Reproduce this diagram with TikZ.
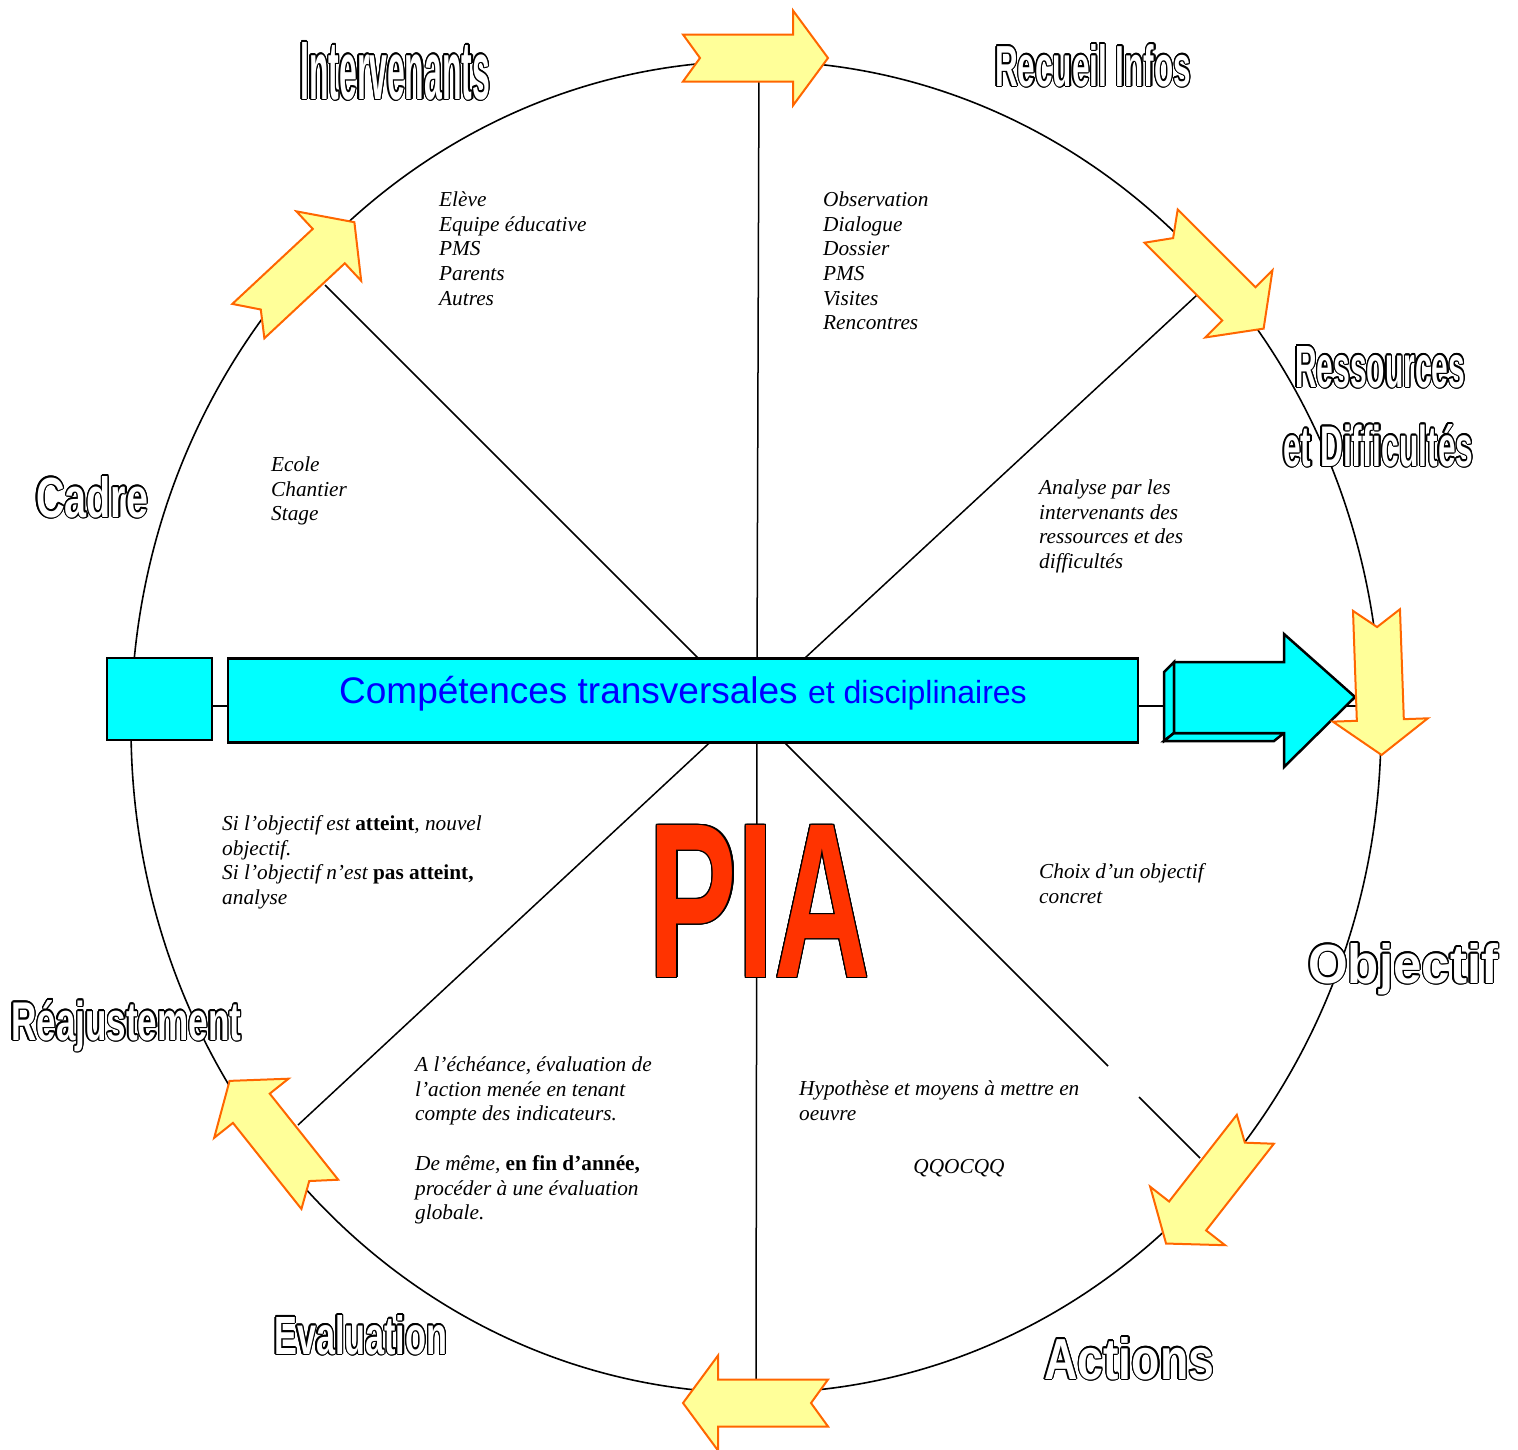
\documentclass[tikz,border=0pt]{standalone}
\usepackage{fontspec}
\setmainfont{Liberation Serif}
\setsansfont{Liberation Sans}
\usepackage{graphicx}
\usepackage[copies]{contour}
\contourlength{1.3pt}
\contournumber{16}

\definecolor{pialight}{HTML}{FFFF99}
\definecolor{piaedge}{HTML}{FF6600}
\definecolor{piared}{HTML}{FF3300}
\definecolor{barcyan}{RGB}{0,255,255}
\definecolor{bartext}{RGB}{0,0,255}

% hollow headings: width, cap height, word
\newcommand\hollow[3]{\contour{black}{\resizebox{#1pt}{#2pt}{\sffamily\bfseries #3}}}
% block arrow round the ellipse: centre, direction
\newcommand\yarrowat[2]{%
  \draw[yarrow, shift={#1}, rotate=#2]
    (-72,23.5) -- (38,23.5) -- (38,47.5) -- (73,0) -- (38,-47.5)
    -- (38,-23.5) -- (-72,-23.5) -- (-55,0) -- cycle;}

\begin{document}
\begin{tikzpicture}[x=1pt, y=-1pt,
    spoke/.style={line width=1.5pt},
    yarrow/.style={fill=pialight, draw=piaedge, line width=2pt, line join=miter},
    cyanface/.style={draw, fill=barcyan, line width=2.5pt, line join=miter},
    cyanbox/.style={cyanface, inner sep=0},
    note/.style={inner sep=0, anchor=north west, align=left,
      font=\itshape\fontsize{21.3}{24.7}\selectfont},
    hollowword/.style={inner sep=0, anchor=base west, text=white}]

  \useasboundingbox (0,0) rectangle (1518,1449);

  \draw[line width=1.6pt] (756,727) ellipse [x radius=625pt, y radius=666pt];

  % spokes
  \draw[spoke] (757,670) -- (759,70);
  \draw[spoke] (710,670) -- (325,285);
  \draw[spoke] (792,670) -- (1197,295);
  \draw[spoke] (720,733) -- (298,1125);
  \draw[spoke] (757,733) -- (756,1385);
  \draw[spoke] (775,733) -- (1108,1066);
  \draw[spoke] (1139,1097) -- (1200,1158);
  \draw[spoke] (131,706) -- (1381,706);

  % bar
  \node[cyanbox, minimum width=105pt, minimum height=82pt] (tab) at (159.5,699) {};
  \node[cyanbox, minimum width=910pt, minimum height=84pt, text=bartext,
    font=\sffamily, text height=30pt, text depth=25pt] (competences) at (683,700.5)
    {\fontsize{37}{40}\selectfont Compétences transversales
     \fontsize{32}{36}\selectfont et disciplinaires};
  \draw[cyanface] (1174,662) -- (1164,672) -- (1164,741) -- (1174,733) -- cycle;
  \draw[cyanface] (1164,741) -- (1274,741) -- (1284,733) -- (1174,733) -- cycle;
  \draw[cyanface] (1174,662) -- (1284,662) -- (1284,634) -- (1355,697)
    -- (1284,767) -- (1284,733) -- (1174,733) -- cycle;

  % arrows round the cycle
  \yarrowat{(755,58)}{0}
  \yarrowat{(1212,277)}{-45}
  \yarrowat{(1379,682)}{-88}
  \yarrowat{(1211,1186)}{-128}
  \yarrowat{(756,1403)}{180}
  \yarrowat{(275,1138)}{128.5}
  \yarrowat{(301,272)}{43}

  % headings
  \node[hollowword] (intervenants) at (300,99) {\hollow{190}{57}{Intervenants}};
  \node[hollowword] (recueil) at (995,86) {\hollow{196}{42}{Recueil Infos}};
  \node[hollowword] (ressources) at (1295,387) {\hollow{170}{41}{Ressources}};
  \node[hollowword] (difficultes) at (1283,466) {\hollow{190}{42}{et Difficultés}};
  \node[hollowword] (cadre) at (36,517) {\hollow{112}{41}{Cadre}};
  \node[hollowword] (reajustement) at (11,1040) {\hollow{230}{40}{Réajustement}};
  \node[hollowword] (objectif) at (1308,983) {\hollow{190}{40}{Objectif}};
  \node[hollowword] (actions) at (1044,1379) {\hollow{170}{42}{Actions}};
  \node[hollowword] (evaluation) at (274,1354) {\hollow{173}{39}{Evaluation}};

  % notes
  \node[note] (qui) at (439,189) {\strut Elève\\Equipe éducative\\PMS\\Parents\\Autres};
  \node[note] (infos) at (823,189)
    {\strut Observation\\Dialogue\\Dossier\\PMS\\Visites\\Rencontres};
  \node[note] (lieux) at (271,454) {\strut Ecole\\Chantier\\Stage};
  \node[note] (analyse) at (1039,477)
    {\strut Analyse par les\\intervenants des\\ressources et des\\difficultés};
  \node[note] (choix) at (1039,861) {\strut Choix d’un objectif\\concret};
  \node[note] (moyens) at (799,1078) {\strut Hypothèse et moyens à mettre en\\oeuvre};
  \node[note, anchor=center] (qqocqq) at (959,1168) {QQOCQQ};
  \node[note] (bilan) at (415,1054)
    {\strut A l’échéance, évaluation de\\l’action menée en tenant\\compte des indicateurs.\\[24.7pt]
     De même, \textbf{\upshape en fin d’année,}\\procéder à une évaluation\\globale.};
  \node[note] (suite) at (222,813)
    {\strut Si l’objectif est \textbf{\upshape atteint}, nouvel\\objectif.\\
     Si l’objectif n’est \textbf{\upshape pas atteint,}\\analyse};

  % PIA
  \node[inner sep=0, text=piared] (pia) at (759.5,902)
    {\contour{black}{\resizebox{221pt}{152pt}{\sffamily\bfseries PIA}}};
\end{tikzpicture}
\end{document}
